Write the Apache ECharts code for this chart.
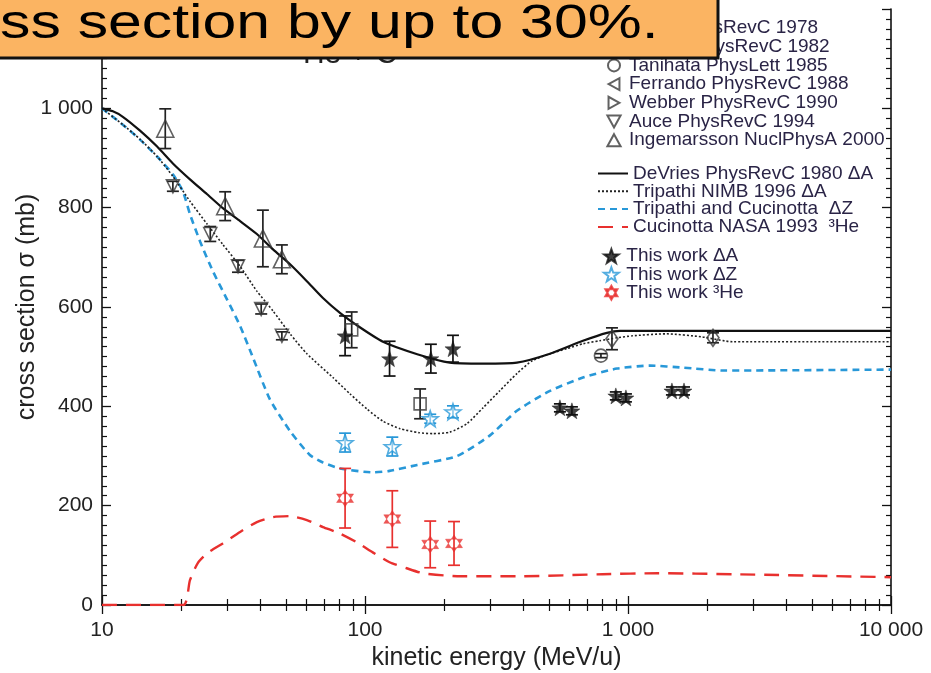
<!DOCTYPE html>
<html>
<head>
<meta charset="utf-8">
<script src="https://cdn.jsdelivr.net/npm/echarts@6/dist/echarts.min.js"></script>
<style>
  html, body { margin: 0; padding: 0; background: #fff; }
  #chart { width: 931px; height: 673px; }
</style>
</head>
<body>
<div id="chart"></div>
<script>
// ---- model curves (kinetic energy in MeV/u, cross section in mb) ----
const devriesE = [10, 11, 12, 13.95, 16.2, 18.6, 21.6, 25.1, 28.8, 33.5, 38.8, 44.7, 51.9, 60.1, 69.2, 80.3, 93.2, 117, 158, 210, 281, 378, 505, 674, 832, 933, 2000, 10000];
const devriesS = [1000, 994, 983, 955, 923, 889, 857, 827, 799, 773, 747, 716, 686, 652, 618, 588, 563, 530, 505, 488, 486, 488, 506, 532, 548, 552, 552, 552];

const tripathiE = [10, 12, 14, 16.2, 18.6, 21.6, 25.1, 28.8, 33.5, 38.8, 44.7, 51.9, 60.1, 75.5, 87.7, 102, 117, 136, 160, 181, 210, 244, 281, 325, 378, 433, 505, 585, 674, 780, 908, 1040, 1400, 1900, 2500, 10000];
const tripathiS = [1000, 967, 937, 903, 863, 813, 767, 726, 682, 632, 592, 546, 506, 458, 425, 394, 370, 355, 347, 345, 348, 365, 397, 431, 466, 492, 506, 516, 526, 532, 538, 542, 546, 540, 530, 530];

const tcE = [10, 12, 13.95, 16.2, 18.6, 20.3, 21.6, 23.6, 26.4, 29.9, 33.5, 37.5, 43.5, 51.9, 61.7, 69.2, 80.3, 107, 124, 158, 224, 298, 378, 505, 674, 908, 1213, 1618, 2300, 10000];
const tcS = [1000, 967, 937, 903, 867, 833, 787, 732, 672, 615, 562, 498, 414, 350, 302, 287, 275, 267, 270, 282, 300, 341, 391, 431, 458, 476, 482, 478, 472, 474];

const nasaE = [10, 20.4, 21.6, 23.1, 25.1, 28.8, 33.5, 38.8, 44.7, 51.9, 60.1, 69.2, 80.3, 93.2, 107, 124, 144, 166, 224, 400, 800, 1300, 2500, 10000];
const nasaS = [0, 0, 50, 84, 104, 124, 147, 167, 177, 179, 171, 157, 144, 126, 106, 86, 74, 64, 58, 58, 62, 64, 62, 56];

// ---- measurements: energy, cross section, error ----
const jarosE = [869, 2104];
const jarosS = [536, 538];
const jarosErr = [22, 10];

const ableevE = [89, 162];
const ableevS = [554, 405];
const ableevErr = [36, 30];

const tanihataE = [789];
const tanihataS = [502];
const tanihataErr = [4];

const ferrandoE = [];
const ferrandoS = [];
const webberE = [];
const webberS = [];

const auceE = [18.6, 25.8, 32.9, 40.3, 48.3];
const auceS = [843, 747, 682, 596, 542];
const auceErr = [10, 15, 12, 10, 8];

const ingeE = [17.4, 29.4, 40.9, 48.3];
const ingeS = [959, 803, 738, 696];
const ingeErr = [40, 29, 57, 29];

const workAE = [84, 124, 178, 216, 551, 612, 899, 982, 1469, 1633];
const workAS = [542, 496, 496, 516, 397, 391, 421, 417, 431, 431];
const workAErr = [40, 35, 29, 27, 8, 8, 8, 8, 8, 8];

const workZE = [84, 127, 177, 216];
const workZS = [327, 319, 375, 389];
const workZErr = [19, 19, 9, 12];

const workHeE = [84, 127, 177, 218];
const workHeS = [215, 173, 122, 124];
const workHeErr = [60, 57, 47, 44];

// ---- axis ticks ----
const xTicks = [10, 100, 1000, 10000];
const yTicks = [0, 200, 400, 600, 800, 1000, 1200];

const FONT = '"Liberation Sans", Arial, Helvetica, sans-serif';
const BLUE = '#2898d8';
const RED = '#e8302e';
const INK = '#222';
const LEG = '#2a2446';

const fmt = v => String(Math.round(v)).replace(/\B(?=(\d{3})+(?!\d))/g, ' ');
const pairs = (xs, ys) => xs.map((x, i) => [x, ys[i]]);
const bars = (xs, ys, es) => xs.map((x, i) => [x, ys[i] - es[i], ys[i] + es[i]]);

// marker outlines
const STAR5 = 'path://M0,-10 L2.351,-3.236 L9.511,-3.09 L3.804,1.236 L5.878,8.09 L0,4 L-5.878,8.09 L-3.804,1.236 L-9.511,-3.09 L-2.351,-3.236 Z';
const STAR6 = 'path://M0,-10 L8.66,5 L-8.66,5 Z M0,10 L8.66,-5 L-8.66,-5 Z';
const TRI_UP = 'path://M0,-5 L5.5,5 L-5.5,5 Z';
const TRI_DOWN = 'path://M0,5 L5.5,-5 L-5.5,-5 Z';
const TRI_LEFT = 'path://M-5,0 L5,-5.5 L5,5.5 Z';
const TRI_RIGHT = 'path://M5,0 L-5,-5.5 L-5,5.5 Z';
const DIAMOND = 'path://M0,-7 L5,0 L0,7 L-5,0 Z';

function errorBars(data, color, cap) {
  return {
    type: 'custom',
    data: data,
    encode: { x: 0, y: [1, 2] },
    z: 3,
    silent: true,
    renderItem: (params, api) => {
      const lo = api.coord([api.value(0), api.value(1)]);
      const hi = api.coord([api.value(0), api.value(2)]);
      const st = { stroke: color, lineWidth: 1.7 };
      return {
        type: 'group',
        children: [
          { type: 'line', shape: { x1: lo[0], y1: lo[1], x2: hi[0], y2: hi[1] }, style: st },
          { type: 'line', shape: { x1: lo[0] - cap, y1: lo[1], x2: lo[0] + cap, y2: lo[1] }, style: st },
          { type: 'line', shape: { x1: hi[0] - cap, y1: hi[1], x2: hi[0] + cap, y2: hi[1] }, style: st }
        ]
      };
    }
  };
}

function markers(name, xs, ys, symbol, size, opts) {
  return Object.assign({
    type: 'scatter',
    name: name,
    data: pairs(xs, ys),
    symbol: symbol,
    symbolSize: size,
    z: 4,
    itemStyle: { color: 'rgba(0,0,0,0)', borderColor: '#3a3a3a', borderWidth: 1.6 }
  }, opts || {});
}

function curve(name, xs, ys, lineStyle) {
  return {
    type: 'line',
    name: name,
    data: pairs(xs, ys),
    symbol: 'none',
    smooth: 0.2,
    z: 2,
    lineStyle: lineStyle,
    itemStyle: { color: lineStyle.color }
  };
}

const axisCommon = {
  type: 'log',
  logBase: 10,
  min: 10,
  max: 10000,
  axisLine: { show: true, lineStyle: { color: '#111', width: 1.6 } },
  axisTick: { show: true, inside: true, length: 9, lineStyle: { color: '#111', width: 1.3 } },
  minorTick: { show: true, splitNumber: 9, length: 6, lineStyle: { color: '#111', width: 1.2 } },
  splitLine: { show: false },
  minorSplitLine: { show: false }
};
const yCommon = {
  type: 'value',
  min: yTicks[0],
  max: yTicks[yTicks.length - 1],
  interval: 200,
  axisLine: { show: true, lineStyle: { color: '#111', width: 1.6 } },
  axisTick: { show: true, inside: true, length: 9, lineStyle: { color: '#111', width: 1.3 } },
  minorTick: { show: true, splitNumber: 10, length: 5, lineStyle: { color: '#111', width: 1.2 } },
  splitLine: { show: false }
};

const legendText = { fontFamily: FONT, fontSize: 19, color: LEG, lineHeight: 19 };

const chart = echarts.init(document.getElementById('chart'), null, { renderer: 'canvas' });
chart.setOption({
  animation: false,
  backgroundColor: '#fff',
  grid: { left: 102, right: 40, top: 9, bottom: 68, containLabel: false, outerBoundsMode: 'none' },
  xAxis: [
    Object.assign({}, axisCommon, {
      position: 'bottom',
      name: 'kinetic energy (MeV/u)',
      nameLocation: 'middle',
      nameGap: 41,
      nameMoveOverlap: false,
      nameTextStyle: { fontFamily: FONT, fontSize: 25, color: INK },
      axisLabel: {
        fontFamily: FONT, fontSize: 21, color: INK, margin: 15,
        formatter: v => (xTicks.indexOf(Math.round(v)) >= 0 ? fmt(v) : '')
      }
    }),
    Object.assign({}, axisCommon, { position: 'top', axisLabel: { show: false } })
  ],
  yAxis: [
    Object.assign({}, yCommon, {
      position: 'left',
      name: 'cross section σ (mb)',
      nameLocation: 'middle',
      nameGap: 62,
      nameMoveOverlap: false,
      nameTextStyle: { fontFamily: FONT, fontSize: 25, color: INK },
      axisLabel: { fontFamily: FONT, fontSize: 21, color: INK, margin: 9, formatter: v => fmt(v) }
    }),
    Object.assign({}, yCommon, { position: 'right', axisLabel: { show: false } })
  ],
  legend: [
    {
      orient: 'vertical', left: 598, top: 13.5, itemWidth: 20, itemHeight: 12, itemGap: -0.3,
      textStyle: legendText, selectedMode: false,
      data: ['Jaros PhysRevC 1978', 'Ableev PhysRevC 1982', 'Tanihata PhysLett 1985', 'Ferrando PhysRevC 1988',
             'Webber PhysRevC 1990', 'Auce PhysRevC 1994', 'Ingemarsson NuclPhysA 2000']
    },
    {
      orient: 'vertical', left: 592, top: 159, itemWidth: 30, itemHeight: 12, itemGap: -1.2,
      textStyle: legendText, selectedMode: false,
      itemStyle: { color: 'rgba(0,0,0,0)', borderWidth: 0, opacity: 0 },
      data: ['DeVries PhysRevC 1980 ΔA', 'Tripathi NIMB 1996 ΔA', 'Tripathi and Cucinotta  ΔZ', 'Cucinotta NASA 1993  ³He']
    },
    {
      orient: 'vertical', left: 598, top: 241.5, itemWidth: 20, itemHeight: 14, itemGap: -0.6,
      textStyle: legendText, selectedMode: false,
      data: ['This work ΔA', 'This work ΔZ', 'This work ³He']
    }
  ],
  series: [
    curve('Cucinotta NASA 1993  ³He', nasaE, nasaS, { color: RED, width: 2.4, type: [15, 9] }),
    curve('Tripathi and Cucinotta  ΔZ', tcE, tcS, { color: BLUE, width: 2.6, type: [7, 5] }),
    curve('Tripathi NIMB 1996 ΔA', tripathiE, tripathiS, { color: '#222', width: 1.6, type: [2, 2] }),
    curve('DeVries PhysRevC 1980 ΔA', devriesE, devriesS, { color: '#111', width: 2.2, type: 'solid' }),

    errorBars(bars(jarosE, jarosS, jarosErr), '#222', 6),
    errorBars(bars(ableevE, ableevS, ableevErr), '#222', 6),
    errorBars(bars(tanihataE, tanihataS, tanihataErr), '#222', 6),
    errorBars(bars(auceE, auceS, auceErr), '#222', 6),
    errorBars(bars(ingeE, ingeS, ingeErr), '#222', 6),
    errorBars(bars(workAE, workAS, workAErr), '#111', 6),
    errorBars(bars(workZE, workZS, workZErr), BLUE, 6),
    errorBars(bars(workHeE, workHeS, workHeErr), RED, 6),

    markers('Jaros PhysRevC 1978', jarosE, jarosS, DIAMOND, [12, 17]),
    markers('Ableev PhysRevC 1982', ableevE, ableevS, 'rect', 12),
    markers('Tanihata PhysLett 1985', tanihataE, tanihataS, 'circle', 13),
    markers('Ferrando PhysRevC 1988', ferrandoE, ferrandoS, TRI_LEFT, 12),
    markers('Webber PhysRevC 1990', webberE, webberS, TRI_RIGHT, 12),
    markers('Auce PhysRevC 1994', auceE, auceS, TRI_DOWN, 13),
    markers('Ingemarsson NuclPhysA 2000', ingeE, ingeS, TRI_UP, 17),
    markers('This work ΔA', workAE, workAS, STAR5, 16, { itemStyle: { color: '#111', borderColor: '#111', borderWidth: 0.5 } }),
    markers('This work ΔZ', workZE, workZS, STAR5, 16, { itemStyle: { color: 'rgba(255,255,255,0.6)', borderColor: BLUE, borderWidth: 1.6 } }),
    markers('This work ³He', workHeE, workHeS, STAR6, 17, { itemStyle: { color: RED, borderColor: RED, borderWidth: 0.5 } })
  ],
  graphic: [
    {
      type: 'text', left: 290, top: 40, z: 50,
      style: { text: '⁴He + C', font: '30px ' + FONT, fill: '#222' }
    },
    {
      type: 'rect', zlevel: 1, z: 100, shape: { x: -6, y: -6, width: 724, height: 64 },
      style: { fill: '#fbb462', stroke: '#111', lineWidth: 3 }
    },
    {
      type: 'text', zlevel: 1, z: 101, x: 0, y: 24, scaleX: 1.24,
      style: { text: 'ss section by up to 30%.', font: '49px ' + FONT, fill: '#000', verticalAlign: 'middle', textAlign: 'left' }
    }
  ]
});
</script>
</body>
</html>
